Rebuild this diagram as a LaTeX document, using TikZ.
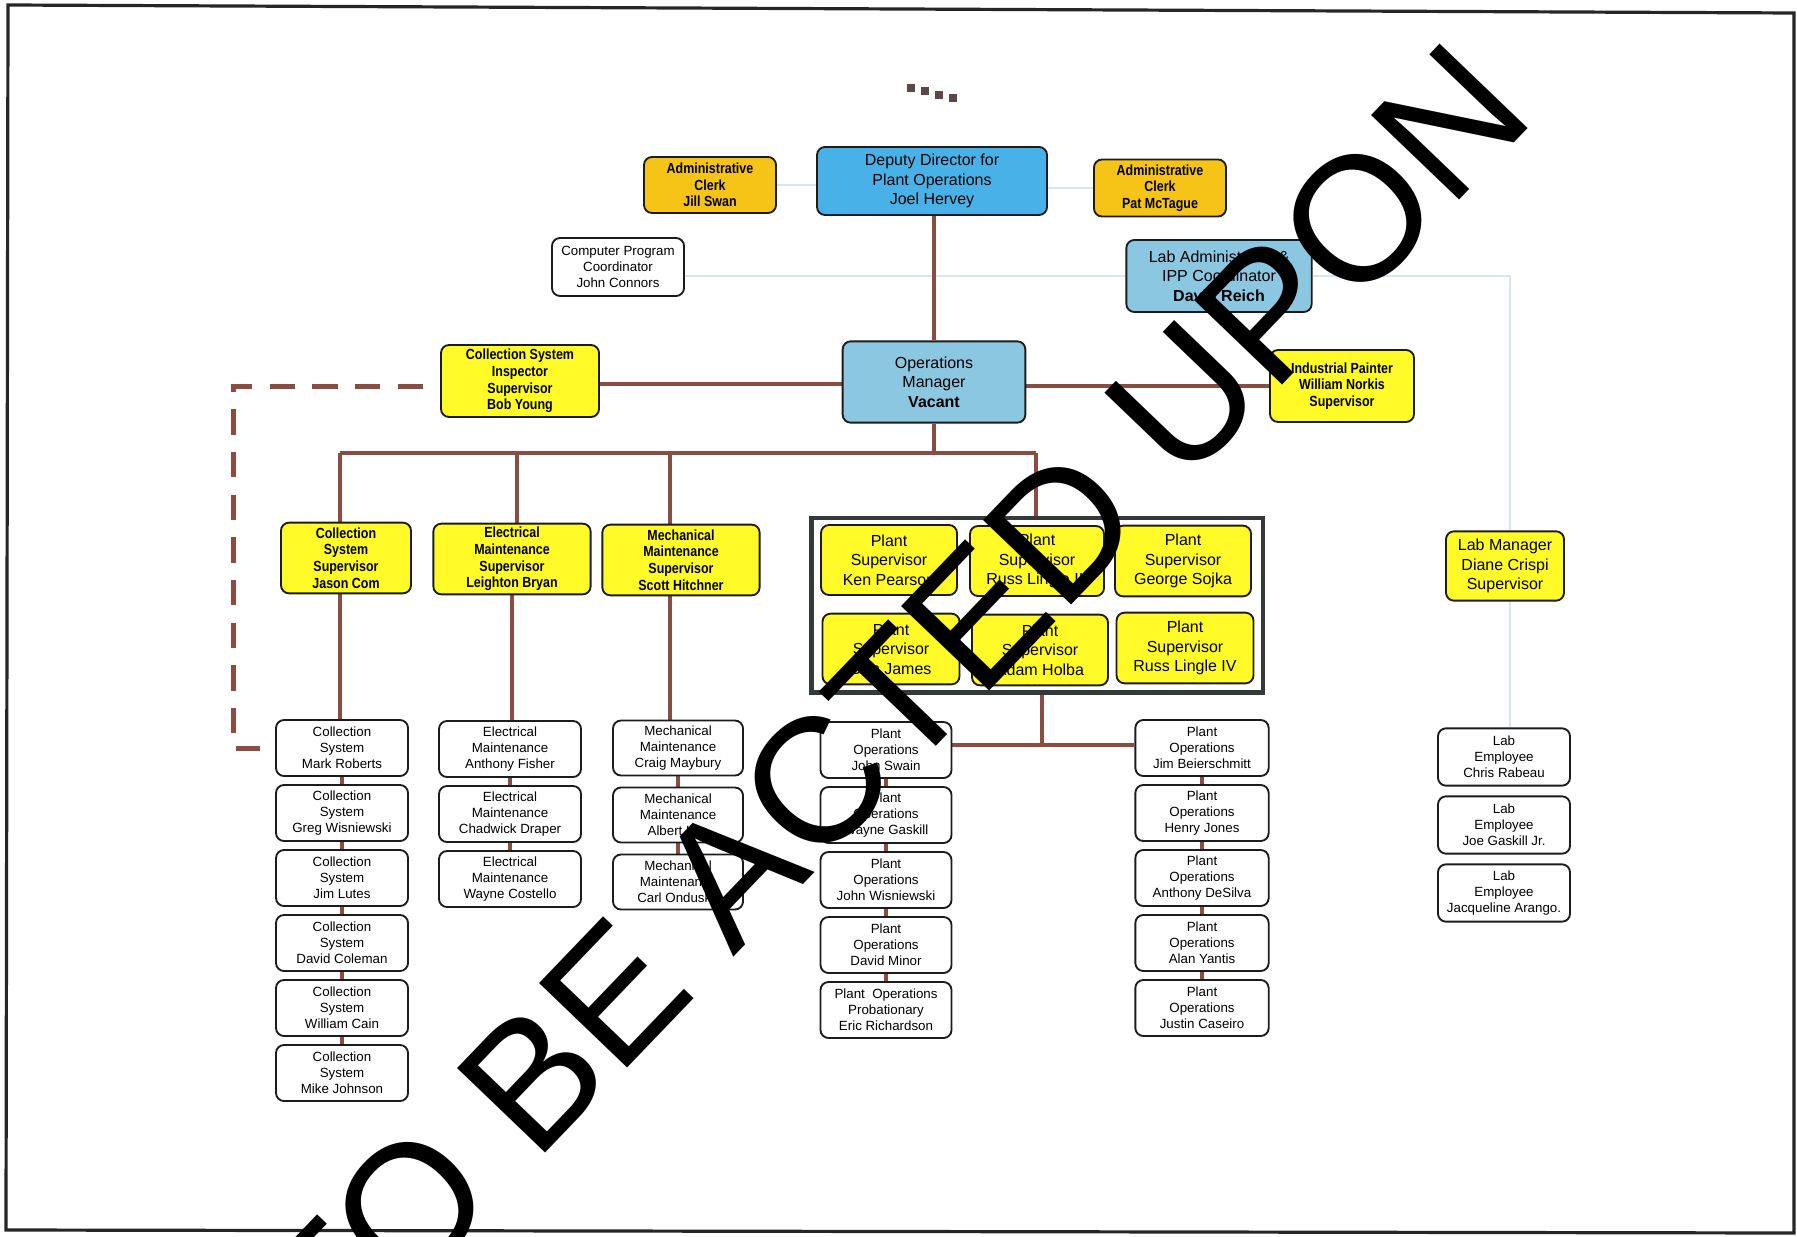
\documentclass[tikz,border=0pt]{standalone}
\usepackage{fontspec}
\setmainfont{Liberation Sans}
\newfontfamily\condfont[FakeStretch=0.85]{Liberation Sans}
\usetikzlibrary{positioning, calc, fit, backgrounds}
\definecolor{cDeputy}{RGB}{72, 178, 232}
\definecolor{cManager}{RGB}{140, 199, 226}
\definecolor{cSuper}{RGB}{255, 250, 40}
\definecolor{cClerk}{RGB}{246, 196, 22}
\definecolor{cStaff}{RGB}{255, 255, 255}
\definecolor{bBox}{RGB}{28, 28, 28}
\definecolor{bGroup}{RGB}{52, 58, 58}
\definecolor{lLink}{RGB}{139, 76, 66}
\definecolor{lFaint}{RGB}{214, 231, 243}
\definecolor{tMark}{RGB}{92, 72, 72}

\begin{document}
\begin{tikzpicture}[
    x=0.75pt, y=-0.75pt,
    font=\fontsize{10}{12}\selectfont,
    node distance=5.35pt,
    box/.style={
        draw=bBox,
        line width=1.4pt,
        rounded corners=6pt,
        align=center,
        inner sep=2pt
    },
    head/.style={box, fill=#1, font=\fontsize{12}{14.5}\selectfont},
    chief/.style={box, fill=#1, font=\condfont\bfseries\fontsize{11}{12.5}\selectfont, minimum height=53pt},
    staff/.style={box, fill=cStaff, font=\fontsize{10}{12}\selectfont, minimum height=42pt, minimum width=#1},
    link/.style={line width=3pt, color=lLink},
    dashlink/.style={line width=3.75pt, color=lLink, dash pattern=on 19pt off 13pt},
    faint/.style={line width=2.2pt, color=lFaint}
]
\useasboundingbox (0,0) rectangle (1797,1237);

% page frame and scan marks
\draw[line width=2.4pt, color=black!85] (8,5) -- (1794,13) -- (1794,1233) -- (6,1230) -- cycle;
\foreach \i in {0,...,3}
    \fill[tMark] (907+14*\i, 84+3.5*\i) rectangle ++(8,8);

% Director level
\node[head=cDeputy, minimum width=172.5pt, minimum height=51pt] (deputy) at (932,181) {Deputy Director for\\Plant Operations\\Joel Hervey};
\node[chief=cClerk, minimum width=99pt, minimum height=42pt] (jswan) at (710,185) {Administrative\\Clerk\\Jill Swan};
\node[chief=cClerk, minimum width=99pt, minimum height=42.75pt] (pmctague) at (1160,188) {Administrative\\Clerk\\Pat McTague};
\node[staff=99pt, minimum height=43.5pt] (jconnors) at (618,267) {Computer Program\\Coordinator\\John Connors};
\node[head=cManager, minimum width=139pt, minimum height=54pt] (dreich) at (1219,276) {Lab Administrator \&\\IPP Coordinator\\\textbf{David Reich}};

% Operations manager level
\node[head=cManager, minimum width=137pt, minimum height=61pt] (opsmgr) at (934,382) {Operations\\Manager\\\textbf{Vacant}};
\node[chief=cSuper, minimum width=118.5pt, minimum height=54pt] (byoung) at (520,381) {Collection System\\Inspector\\Supervisor\\Bob Young};
\node[chief=cSuper, minimum width=108pt, minimum height=54pt] (wnorkis) at (1342,386) {Industrial Painter\\William Norkis\\Supervisor};

% Supervisors
\node[chief=cSuper, minimum width=97.5pt] (jcom) at (346,558) {Collection\\System\\Supervisor\\Jason Com};
\node[chief=cSuper, minimum width=118pt] (lbryan) at (512,559) {Electrical\\Maintenance\\Supervisor\\Leighton Bryan};
\node[chief=cSuper, minimum width=118pt] (shitchner) at (681,560) {Mechanical\\Maintenance\\Supervisor\\Scott Hitchner};

\node[head=cSuper, minimum width=102pt, minimum height=52.5pt] (kpearson) at (889,560) {Plant\\Supervisor\\Ken Pearson};
\node[head=cSuper, minimum width=100.5pt, minimum height=52.5pt] (rlingle) at (1037,561) {Plant\\Supervisor\\Russ Lingle III};
\node[head=cSuper, minimum width=102pt, minimum height=53pt] (gsojka) at (1183,561) {Plant\\Supervisor\\George Sojka};
\node[head=cSuper, minimum width=102.75pt, minimum height=53pt] (djames) at (891,649) {Plant\\Supervisor\\Don James};
\node[head=cSuper, minimum width=102pt, minimum height=53pt] (aholba) at (1040,650) {Plant\\Supervisor\\Adam Holba};
\node[head=cSuper, minimum width=102.75pt, minimum height=53pt] (rlingleiv) at (1185,648) {Plant\\Supervisor\\Russ Lingle IV};
\node[draw=bGroup, line width=3.5pt, inner xsep=6.5pt, inner ysep=4.5pt,
      fit=(kpearson)(gsojka)(djames)(aholba)(rlingleiv)] (psgroup) {};

\node[head=cSuper, minimum width=88.5pt, minimum height=52pt] (dcrispi) at (1505,566) {Lab Manager\\Diane Crispi\\Supervisor};

% Collection system crew
\node[staff=99pt] (mroberts) at (342,748) {Collection\\System\\Mark Roberts};
\node[staff=99pt, below=of mroberts] (gwisniewski) {Collection\\System\\Greg Wisniewski};
\node[staff=99pt, below=of gwisniewski] (jlutes) {Collection\\System\\Jim Lutes};
\node[staff=99pt, below=of jlutes] (dcoleman) {Collection\\System\\David Coleman};
\node[staff=99pt, below=of dcoleman] (wcain) {Collection\\System\\William Cain};
\node[staff=99pt, below=of wcain] (mjohnson) {Collection\\System\\Mike Johnson};

% Electrical crew
\node[staff=106.5pt] (afisher) at (510,749) {Electrical\\Maintenance\\Anthony Fisher};
\node[staff=106.5pt, below=of afisher] (cdraper) {Electrical\\Maintenance\\Chadwick Draper};
\node[staff=106.5pt, below=of cdraper] (wcostello) {Electrical\\Maintenance\\Wayne Costello};

% Mechanical crew
\node[staff=97.5pt, minimum height=41.25pt] (cmaybury) at (678,748) {Mechanical\\Maintenance\\Craig Maybury};
\node[staff=97.5pt, minimum height=41.25pt, below=7.6pt of cmaybury] (alee) {Mechanical\\Maintenance\\Albert Lee};
\node[staff=97.5pt, minimum height=41.25pt, below=7.6pt of alee] (condusko) {Mechanical\\Maintenance\\Carl Ondusko};

% Plant operations crews
\node[staff=98.25pt] (jswain) at (886,750) {Plant\\Operations\\John Swain};
\node[staff=98.25pt, below=of jswain] (wgaskill) {Plant\\Operations\\Wayne Gaskill};
\node[staff=98.25pt, below=of wgaskill] (jwisniewski) {Plant\\Operations\\John Wisniewski};
\node[staff=98.25pt, below=of jwisniewski] (dminor) {Plant\\Operations\\David Minor};
\node[staff=98.25pt, below=of dminor] (erichardson) {Plant~~Operations\\Probationary\\Eric Richardson};

\node[staff=100pt] (jbeier) at (1202,748) {Plant\\Operations\\Jim Beierschmitt};
\node[staff=100pt, below=of jbeier] (hjones) {Plant\\Operations\\Henry Jones};
\node[staff=100pt, below=of hjones] (adesilva) {Plant\\Operations\\Anthony DeSilva};
\node[staff=100pt, below=of adesilva] (ayantis) {Plant\\Operations\\Alan Yantis};
\node[staff=100pt, below=of ayantis] (jcaseiro) {Plant\\Operations\\Justin Caseiro};

% Lab crew
\node[staff=99pt, minimum height=43pt] (crabeau) at (1504,757) {Lab\\Employee\\Chris Rabeau};
\node[staff=99pt, minimum height=43pt, below=6.6pt of crabeau] (jgaskill) {Lab\\Employee\\Joe Gaskill Jr.};
\node[staff=99pt, minimum height=43pt, below=6.6pt of jgaskill] (jarango) {Lab\\Employee\\Jacqueline Arango.};

% connectors
\begin{scope}[on background layer]
    \draw[faint] (jswan.east) -- (jswan.east -| deputy.west);
    \draw[faint] (pmctague.west) -- (pmctague.west -| deputy.east);
    \draw[faint] (jconnors.east |- dreich.west) -- (dreich.west);
    \coordinate (labturn) at (1510,276);
    \draw[faint] (dreich.east) -- (labturn) -- (labturn |- dcrispi.north);
    \draw[faint] (labturn |- dcrispi.south) -- (labturn |- crabeau.north);

    \draw[link] (deputy.south -| opsmgr.north) -- (opsmgr.north);
    \draw[link] ([yshift=-2.25pt]byoung.east) -- ([yshift=-2.25pt]byoung.east -| opsmgr.west);
    \draw[link] (wnorkis.west) -- (wnorkis.west -| opsmgr.east);

    \coordinate (busL) at (340,453);
    \coordinate (busE) at (517,453);
    \coordinate (busM) at (670,453);
    \coordinate (busR) at (1036,453);
    \draw[link] (opsmgr.south) -- (opsmgr.south |- busL);
    \draw[link] (busL) -- (busR);
    \draw[link] (busL) -- (busL |- mroberts.north);
    \draw[link] (busE) -- (busE |- lbryan.north);
    \draw[link] (lbryan.south) -- (lbryan.south |- afisher.north);
    \draw[link] (busM) -- (busM |- cmaybury.north);
    \draw[link] (busR) -- (busR |- psgroup.north);

    \coordinate (opsdrop) at (1042,745);
    \draw[link] (psgroup.south -| opsdrop) -- (opsdrop);
    \draw[link] (jswain.east |- opsdrop) -- (jbeier.west |- opsdrop);

    \draw[link] (mroberts) -- (mjohnson);
    \draw[link] (afisher) -- (wcostello);
    \draw[link] (cmaybury) -- (condusko);
    \draw[link] (jswain) -- (erichardson);
    \draw[link] (jbeier) -- (jcaseiro);

    \coordinate (dashturn) at (233,386);
    \draw[dashlink] ([xshift=-12.75pt, yshift=-3.75pt]byoung.west) -- (dashturn) |- ([xshift=-11.25pt]mroberts.west);
\end{scope}

% stamp
\begin{scope}
    \clip (0,0) rectangle (1797,1237);
    \node[rotate=46.2, inner sep=0pt, font=\fontsize{133}{133}\selectfont] (stamp) at (892,704) {TO BE ACTED UPON};
\end{scope}

\end{tikzpicture}
\end{document}
